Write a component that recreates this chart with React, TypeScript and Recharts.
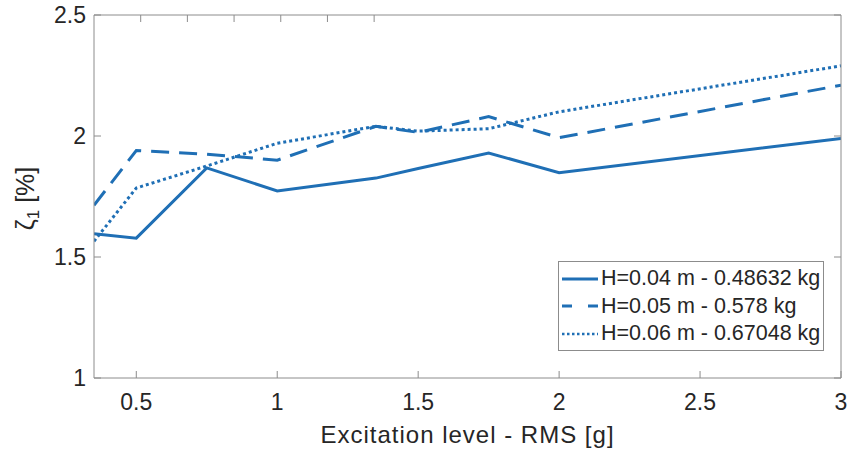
import { LineChart, Line, XAxis, YAxis, Legend } from "recharts";

const excitation = [0.35, 0.5, 0.75, 1, 1.35, 1.5, 1.75, 2, 3];
const h004 = [1.596, 1.578, 1.868, 1.773, 1.826, 1.866, 1.93, 1.848, 1.99];
const h005 = [1.714, 1.94, 1.925, 1.9, 2.04, 2.015, 2.08, 1.993, 2.21];
const h006 = [1.565, 1.785, 1.876, 1.97, 2.04, 2.02, 2.03, 2.1, 2.29];

const xTicks = [0.5, 1, 1.5, 2, 2.5, 3];
const yTicks = [1, 1.5, 2, 2.5];

const seriesNames = ["H=0.04 m - 0.48632 kg", "H=0.05 m - 0.578 kg", "H=0.06 m - 0.67048 kg"];

const data = excitation.map((x, i) => ({ x, a: h004[i], b: h005[i], c: h006[i] }));

const BLUE = "#1f6fb5";
const AXIS = "#8c8c8c";
const TEXT = "#262626";
const FONT = "'Liberation Sans', Arial, sans-serif";
const TICK = 7;

const dashes = [undefined, "18 10", "3 3"];
const legendDashes = [undefined, "10 16", "2.5 2.5"];

function BottomTick({ x, y, payload }: any) {
  return (
    <g>
      <line x1={x} y1={y} x2={x} y2={y - TICK} stroke={AXIS} />
      <text x={x} y={y + 32} textAnchor="middle" fontSize={23} fill={TEXT} fontFamily={FONT}>
        {payload.value}
      </text>
    </g>
  );
}

function TopTick({ x, y }: any) {
  return <line x1={x} y1={y} x2={x} y2={y + TICK} stroke={AXIS} />;
}

function LeftTick({ x, y, payload }: any) {
  return (
    <g>
      <line x1={x} y1={y} x2={x + TICK} y2={y} stroke={AXIS} />
      <text x={x - 8} y={y} dy="0.36em" textAnchor="end" fontSize={23} fill={TEXT} fontFamily={FONT}>
        {payload.value}
      </text>
    </g>
  );
}

function RightTick({ x, y }: any) {
  return <line x1={x} y1={y} x2={x - TICK} y2={y} stroke={AXIS} />;
}

function LegendBox() {
  return (
    <div
      style={{
        border: `1px solid ${AXIS}`,
        background: "#fff",
        padding: "3px 0 2px 2px",
        fontFamily: FONT,
        fontSize: 21.5,
        color: TEXT,
        lineHeight: "27.5px",
      }}
    >
      {seriesNames.map((name, i) => (
        <div key={name} style={{ display: "flex", alignItems: "center", whiteSpace: "nowrap" }}>
          <svg width={38} height={10} style={{ marginRight: 2 }}>
            <line
              x1={1}
              y1={5}
              x2={37}
              y2={5}
              stroke={BLUE}
              strokeWidth={i === 2 ? 2.5 : 3}
              strokeDasharray={legendDashes[i]}
            />
          </svg>
          <span>{name}</span>
        </div>
      ))}
    </div>
  );
}

export default function App() {
  return (
    <div style={{ position: "fixed", left: 0, top: 0, background: "#fff" }}>
      <LineChart width={850} height={455} data={data} margin={{ top: 14, right: 8, bottom: 76, left: 93 }}>
        <XAxis
          dataKey="x"
          type="number"
          domain={[0.35, 3]}
          ticks={xTicks}
          height={1}
          tickSize={0}
          tickMargin={0}
          tickLine={false}
          axisLine={{ stroke: AXIS }}
          tick={<BottomTick />}
          allowDataOverflow
          label={{
            value: "Excitation level - RMS [g]",
            position: "bottom",
            offset: 0,
            content: ({ viewBox }: any) => (
              <text
                x={viewBox.x + viewBox.width / 2}
                y={viewBox.y + 65}
                textAnchor="middle"
                fontSize={24}
                letterSpacing={1}
                fill={TEXT}
                fontFamily={FONT}
              >
                Excitation level - RMS [g]
              </text>
            ),
          }}
        />
        <XAxis
          xAxisId="top"
          orientation="top"
          type="number"
          domain={[0.35, 3]}
          ticks={xTicks}
          height={1}
          tickSize={0}
          tickMargin={0}
          tickLine={false}
          axisLine={{ stroke: AXIS }}
          tick={<TopTick />}
          allowDataOverflow
        />
        <YAxis
          type="number"
          domain={[1, 2.5]}
          ticks={yTicks}
          width={1}
          tickSize={0}
          tickMargin={0}
          tickLine={false}
          axisLine={{ stroke: AXIS }}
          tick={<LeftTick />}
          allowDataOverflow
          label={{
            value: "ζ1 [%]",
            content: ({ viewBox }: any) => {
              const cx = viewBox.x - 59;
              const cy = viewBox.y + viewBox.height / 2 + 2;
              return (
                <text
                  x={cx}
                  y={cy}
                  transform={`rotate(-90 ${cx} ${cy})`}
                  textAnchor="middle"
                  fontSize={25}
                  fill={TEXT}
                  fontFamily={FONT}
                >
                  ζ
                  <tspan fontSize={17} dy={5}>1</tspan>
                  <tspan dy={-5}> [%]</tspan>
                </text>
              );
            },
          }}
        />
        <YAxis
          yAxisId="right"
          orientation="right"
          type="number"
          domain={[1, 2.5]}
          ticks={yTicks}
          width={1}
          tickSize={0}
          tickMargin={0}
          tickLine={false}
          axisLine={{ stroke: AXIS }}
          tick={<RightTick />}
          allowDataOverflow
        />
        <Legend
          layout="vertical"
          align="center"
          verticalAlign="middle"
          content={<LegendBox />}
          wrapperStyle={{ position: "absolute", left: 558, top: 261, width: 266 }}
        />
        {["a", "b", "c"].map((k, i) => (
          <Line
            key={k}
            dataKey={k}
            name={seriesNames[i]}
            stroke={BLUE}
            strokeWidth={3}
            strokeDasharray={dashes[i]}
            dot={false}
            activeDot={false}
            isAnimationActive={false}
          />
        ))}
      </LineChart>
    </div>
  );
}
